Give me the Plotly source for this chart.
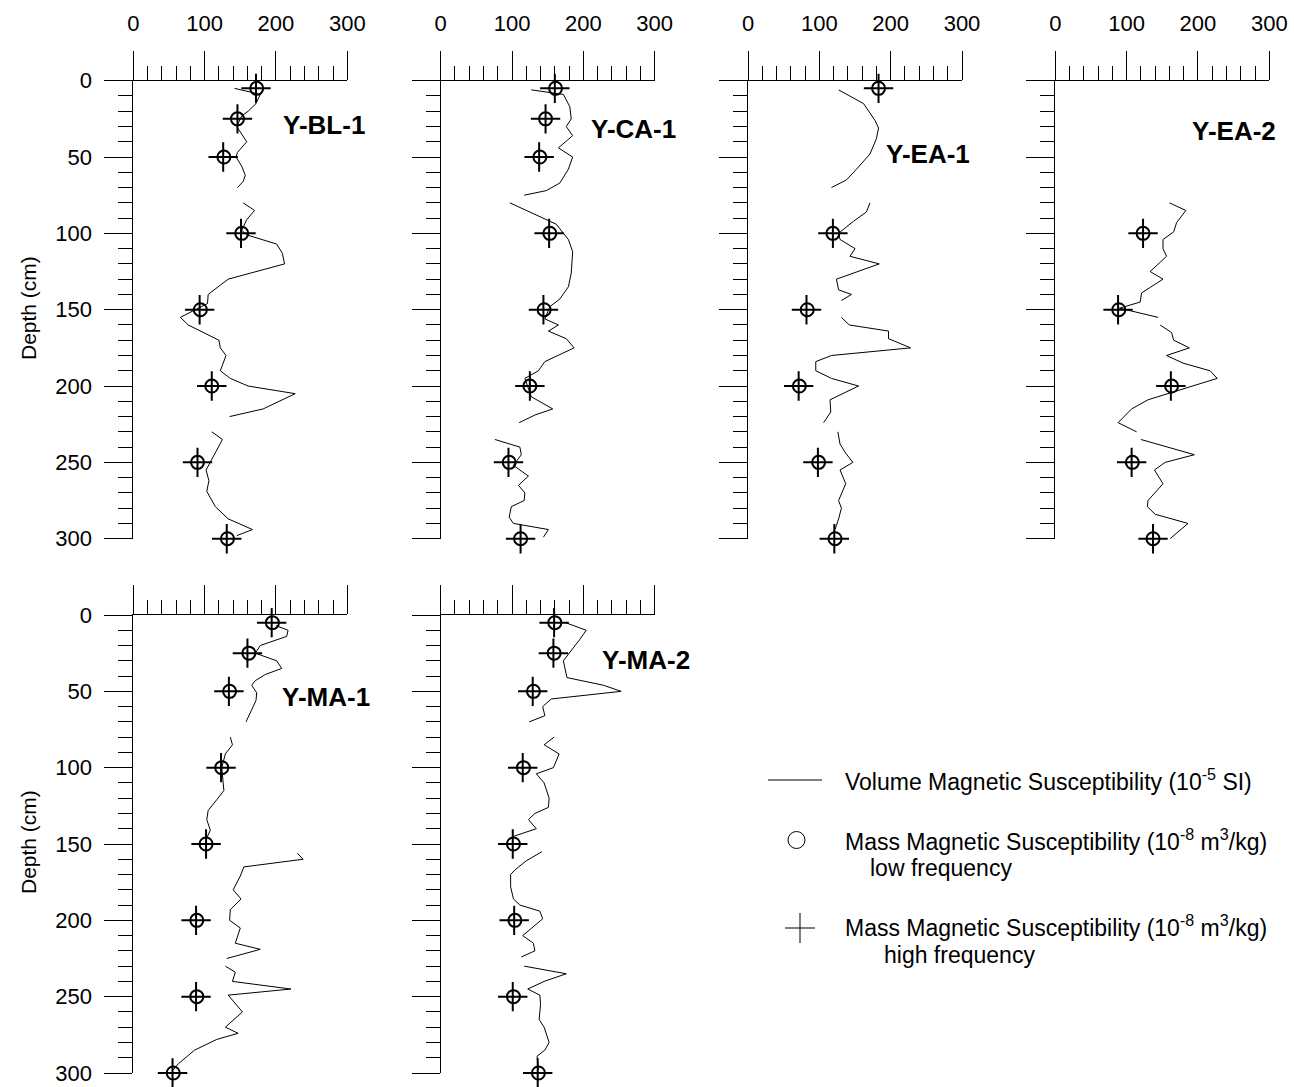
import plotly.graph_objects as go

W, H = 1294, 1087
FONT = "Liberation Sans, Arial, sans-serif"

# ---------------- data ----------------
cores = ["Y-BL-1", "Y-CA-1", "Y-EA-1", "Y-EA-2", "Y-MA-1", "Y-MA-2"]

# Volume magnetic susceptibility (10^-5 SI), depth in cm (None = gap)
vol_depth_bl1 = [5, 9, 15, 20, 23, 30, 40, 47, 50, 56, 62, 66, 70, None,
                 80, 85, 91, 98, 101, 107, 113, 120, 130, 140, 146, 155, 160, 170, 175, 180, 190, 195, 200, 205, 215, 220, None,
                 230, 235, 242, 250, 255, 262, 269, 279, 287, 294, 298]
vol_val_bl1 = [142, 178, 172, 161, 152, 145, 159, 146, 144, 152, 157, 154, 146, None,
               154, 170, 159, 152, 159, 201, 209, 212, 133, 105, 104, 66, 77, 120, 122, 130, 122, 136, 161, 227, 182, 135, None,
               110, 125, 117, 108, 102, 106, 103, 115, 133, 167, 145]

vol_depth_ca1 = [6, 9, 17, 25, 30, 36, 44, 50, 58, 67, 72, 75, None,
                 80, 88, 94, 104, 112, 126, 135, 143, 148, 156, 160, 164, 169, 175, 184, 190, 195, 207, 215, 219, 224, None,
                 235, 240, 245, 252, 259, 265, 270, 275, 279, 286, 290, 294, 299]
vol_val_ca1 = [127, 172, 181, 183, 176, 185, 165, 185, 179, 167, 148, 117, None,
               97, 134, 162, 179, 185, 183, 179, 167, 153, 146, 165, 151, 176, 187, 146, 137, 118, 127, 157, 132, 110, None,
               76, 111, 113, 102, 123, 109, 118, 117, 99, 96, 102, 151, 144]

vol_depth_ea1 = [6, 15, 26, 31, 38, 48, 58, 65, 70, None,
                 80, 86, 92, 100, 104, 110, 115, 120, 130, 137, 140, 144, None,
                 155, 160, 164, 169, 175, 180, 184, 190, 195, 200, 209, 217, 224, None,
                 230, 238, 244, 250, 255, 264, 275, 280, 287, 294]
vol_val_ea1 = [127, 162, 178, 183, 180, 171, 152, 138, 117, None,
               171, 166, 148, 127, 129, 150, 143, 184, 124, 127, 145, 131, None,
               131, 142, 197, 197, 228, 117, 95, 95, 117, 155, 115, 116, 106, None,
               126, 129, 137, 147, 129, 137, 127, 131, 127, 122]

vol_depth_ea2 = [80, 85, 93, 99, 104, 110, 115, 125, 130, 139, 145, 149, 155, None,
                 160, 165, 170, 175, 180, 185, 190, 195, 209, 215, 224, 230, None,
                 235, 245, 250, 255, 264, 275, 279, 284, 290, 300]
vol_val_ea2 = [160, 183, 170, 166, 151, 151, 156, 133, 151, 121, 119, 90, 144, None,
               147, 163, 166, 188, 156, 179, 217, 227, 130, 107, 88, 114, None,
               120, 195, 154, 139, 151, 130, 129, 140, 186, 161]

vol_depth_ma1 = [7, 10, 14, 20, 25, 30, 35, 39, 43, 46, 51, 56, 62, 70, None,
                 80, 85, 91, 100, 110, 115, 121, 128, 134, 141, 146, 148, None,
                 156, 160, 165, 171, 180, 186, 193, 200, 205, 215, 219, 225, None,
                 230, 234, 240, 245, 249, 260, 270, 274, 278, 285, 294, 298]
vol_val_ma1 = [200, 217, 215, 178, 171, 201, 208, 185, 171, 166, 173, 172, 166, 158, None,
               136, 139, 129, 124, 126, 127, 117, 105, 103, 108, 103, 102, None,
               230, 238, 155, 150, 140, 151, 136, 135, 150, 143, 178, 131, None,
               129, 143, 139, 221, 133, 153, 129, 147, 117, 86, 63, 56]

vol_depth_ma2 = [5, 10, 16, 23, 30, 41, 46, 50, 55, 60, 66, 70, None,
                 80, 85, 91, 100, 104, 110, 120, 126, 130, 134, 140, 145, None,
                 155, 161, 167, 170, 178, 186, 190, 194, 199, 205, 210, 215, 220, 224, None,
                 230, 235, 240, 245, 249, 255, 260, 265, 270, 280, 285, 289, 298]
vol_val_ma2 = [175, 204, 195, 183, 172, 177, 228, 253, 155, 143, 146, 124, None,
               159, 145, 166, 158, 134, 145, 152, 151, 132, 123, 134, 102, None,
               142, 120, 104, 98, 98, 102, 111, 139, 143, 127, 115, 130, 132, 113, None,
               117, 176, 145, 122, 139, 140, 139, 138, 145, 152, 146, 135, 137]

# Mass magnetic susceptibility (10^-8 m3/kg): low (lf) and high (hf) frequency
mass_depth_bl1 = [5, 25, 50, 100, 150, 200, 250, 300]
mass_lf_bl1 = [173, 146, 127, 152, 94, 110, 90, 132]
mass_hf_bl1 = [172, 146, 126, 151, 93, 110, 90, 131]

mass_depth_ca1 = [5, 25, 50, 100, 150, 200, 250, 300]
mass_lf_ca1 = [161, 147, 139, 153, 145, 125, 96, 112]
mass_hf_ca1 = [160, 147, 138, 152, 144, 125, 95, 112]

mass_depth_ea1 = [5, 100, 150, 200, 250, 300]
mass_lf_ea1 = [183, 119, 83, 72, 99, 122]
mass_hf_ea1 = [183, 119, 82, 71, 98, 121]

mass_depth_ea2 = [100, 150, 200, 250, 300]
mass_lf_ea2 = [123, 89, 163, 108, 137]
mass_hf_ea2 = [123, 88, 162, 107, 137]

mass_depth_ma1 = [5, 25, 50, 100, 150, 200, 250, 300]
mass_lf_ma1 = [195, 162, 135, 124, 102, 89, 89, 56]
mass_hf_ma1 = [194, 160, 134, 123, 102, 88, 88, 55]

mass_depth_ma2 = [5, 25, 50, 100, 150, 200, 250, 300]
mass_lf_ma2 = [160, 159, 130, 116, 102, 104, 102, 137]
mass_hf_ma2 = [159, 158, 129, 115, 101, 103, 101, 136]

x_ticks = [0, 100, 200, 300]
depth_ticks = [0, 50, 100, 150, 200, 250, 300]

vol_depths = [vol_depth_bl1, vol_depth_ca1, vol_depth_ea1, vol_depth_ea2, vol_depth_ma1, vol_depth_ma2]
vol_vals = [vol_val_bl1, vol_val_ca1, vol_val_ea1, vol_val_ea2, vol_val_ma1, vol_val_ma2]
mass_depths = [mass_depth_bl1, mass_depth_ca1, mass_depth_ea1, mass_depth_ea2, mass_depth_ma1, mass_depth_ma2]
mass_lfs = [mass_lf_bl1, mass_lf_ca1, mass_lf_ea1, mass_lf_ea2, mass_lf_ma1, mass_lf_ma2]
mass_hfs = [mass_hf_bl1, mass_hf_ca1, mass_hf_ea1, mass_hf_ea2, mass_hf_ma1, mass_hf_ma2]

# ---------------- layout geometry (pixels) ----------------
col_left = [133.3, 440.7, 748.0, 1055.3]
row_top = [80.7, 615.0]
pw, ph = 214.0, 458.0
panel_pos = [(0, 0), (1, 0), (2, 0), (3, 0), (0, 1), (1, 1)]
title_pos = [(324, 125), (633, 129), (928, 154), (1234, 131), (326, 697), (646, 660)]

fig = go.Figure()
layout = dict(
    width=W, height=H, autosize=False,
    margin=dict(l=0, r=0, t=0, b=0, pad=0, autoexpand=False),
    paper_bgcolor="white", plot_bgcolor="white", showlegend=False,
    font=dict(family=FONT, size=22, color="black"),
)

annotations = []
shapes = []

for i in range(6):
    n = i + 1
    c, r = panel_pos[i]
    xs = "" if n == 1 else str(n)
    x0 = col_left[c]
    y0 = row_top[r]
    layout["xaxis" + xs] = dict(
        domain=[x0 / W, (x0 + pw) / W], anchor="y" + xs, side="top",
        range=[0, 300], tickmode="linear", tick0=x_ticks[0], dtick=x_ticks[1] - x_ticks[0],
        ticks="outside", ticklen=29, tickwidth=1, tickcolor="black",
        showline=True, linecolor="black", linewidth=1,
        showgrid=False, zeroline=False, automargin=False,
        showticklabels=(r == 0), ticklabelstandoff=11,
        tickfont=dict(family=FONT, size=22, color="black"),
        minor=dict(tick0=0, dtick=20, ticks="outside", ticklen=14,
                   tickwidth=1, tickcolor="black", showgrid=False),
    )
    layout["yaxis" + xs] = dict(
        domain=[1 - (y0 + ph) / H, 1 - y0 / H], anchor="x" + xs,
        range=[300, 0], tickmode="linear", tick0=depth_ticks[0], dtick=depth_ticks[1] - depth_ticks[0],
        ticks="outside", ticklen=28, tickwidth=1, tickcolor="black",
        showline=True, linecolor="black", linewidth=1,
        showgrid=False, zeroline=False, automargin=False,
        showticklabels=(c == 0), ticklabelstandoff=8,
        tickfont=dict(family=FONT, size=22, color="black"),
        minor=dict(tick0=0, dtick=10, ticks="outside", ticklen=14,
                   tickwidth=1, tickcolor="black", showgrid=False),
    )
    xa, ya = "x" + xs, "y" + xs
    fig.add_trace(go.Scatter(
        x=vol_vals[i], y=vol_depths[i], xaxis=xa, yaxis=ya, mode="lines",
        line=dict(color="black", width=1), connectgaps=False, cliponaxis=False,
        hoverinfo="skip"))
    fig.add_trace(go.Scatter(
        x=mass_lfs[i], y=mass_depths[i], xaxis=xa, yaxis=ya, mode="markers",
        marker=dict(symbol="circle-open", size=13, color="black", line=dict(width=2, color="black")),
        cliponaxis=False))
    fig.add_trace(go.Scatter(
        x=mass_hfs[i], y=mass_depths[i], xaxis=xa, yaxis=ya, mode="markers",
        marker=dict(symbol="cross-thin-open", size=21, color="black", line=dict(width=2, color="black")),
        cliponaxis=False))
    tx, ty = title_pos[i]
    annotations.append(dict(
        text="<b>%s</b>" % cores[i], x=tx / W, y=1 - ty / H, xref="paper", yref="paper",
        xanchor="center", yanchor="middle", showarrow=False,
        font=dict(family=FONT, size=26, color="black")))

# y-axis titles
for cy in (308, 842):
    annotations.append(dict(
        text="Depth (cm)", x=28 / W, y=1 - cy / H, xref="paper", yref="paper",
        xanchor="center", yanchor="middle", showarrow=False, textangle=-90,
        font=dict(family=FONT, size=21, color="black")))

# ---------------- legend ----------------
def px(x):
    return x / W

def py(y):
    return 1 - y / H

shapes.append(dict(type="line", xref="paper", yref="paper", x0=px(768), x1=px(822), y0=py(780), y1=py(780),
                   line=dict(color="black", width=1)))
shapes.append(dict(type="circle", xref="paper", yref="paper", x0=px(788), x1=px(805), y0=py(848.5), y1=py(831.5),
                   line=dict(color="black", width=1)))
shapes.append(dict(type="line", xref="paper", yref="paper", x0=px(785), x1=px(815), y0=py(928), y1=py(928),
                   line=dict(color="black", width=1)))
shapes.append(dict(type="line", xref="paper", yref="paper", x0=px(800), x1=px(800), y0=py(913), y1=py(943),
                   line=dict(color="black", width=1)))

legend_texts = [
    ("Volume Magnetic Susceptibility (10<sup>-5</sup> SI)", 843, 780),
    ("Mass Magnetic Susceptibility (10<sup>-8</sup> m<sup>3</sup>/kg)", 843, 840),
    ("low frequency", 868, 868),
    ("Mass Magnetic Susceptibility (10<sup>-8</sup> m<sup>3</sup>/kg)", 843, 926),
    ("high frequency", 882, 955),
]
for t, x, y in legend_texts:
    annotations.append(dict(
        text=t, x=px(x), y=py(y), xref="paper", yref="paper",
        xanchor="left", yanchor="middle", showarrow=False,
        font=dict(family=FONT, size=23, color="black")))

layout["annotations"] = annotations
layout["shapes"] = shapes
fig.update_layout(**layout)
fig.write_html("out.html")
